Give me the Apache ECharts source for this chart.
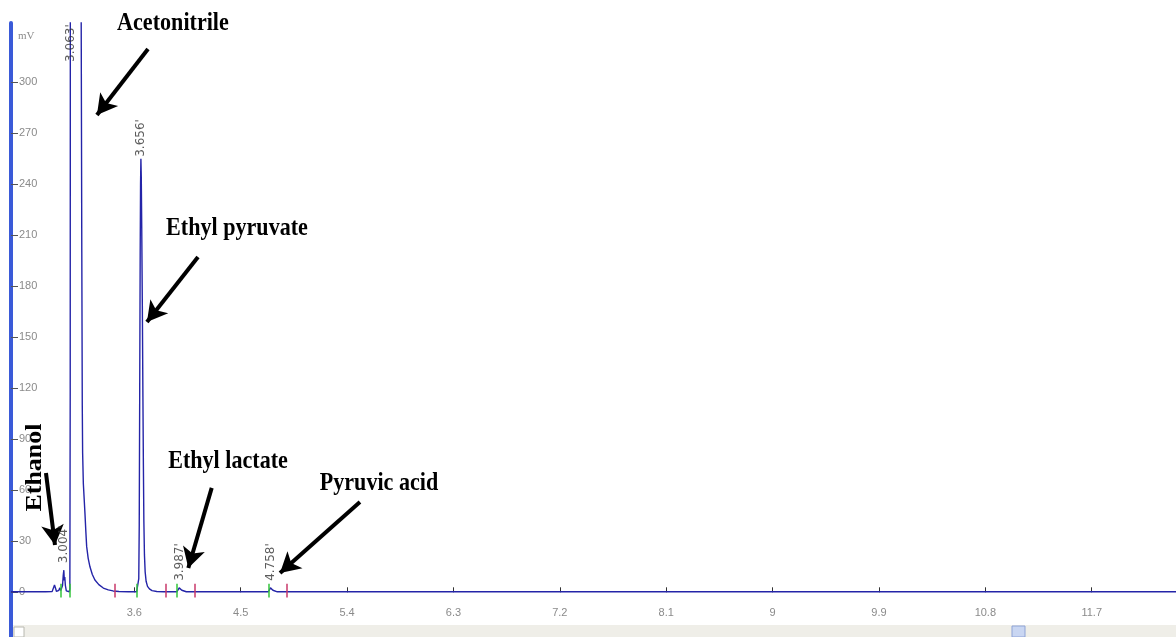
<!DOCTYPE html>
<html><head><meta charset="utf-8">
<script src="https://cdn.jsdelivr.net/npm/echarts@6/dist/echarts.min.js"></script>
<style>html,body{margin:0;padding:0;background:#fff}#c{width:1176px;height:637px}</style>
</head><body><div id="c"></div>
<script>
// ---- data ----
const signalTime = [2.557,2.70,2.85,2.905,2.915,2.925,2.933,2.942,2.952,2.962,2.970,2.978,2.986,2.993,2.999,3.004,3.008,3.012,3.017,3.025,3.035,3.050,
  3.055,3.058,3.061,3.063,3.10,3.14,3.150,3.156,3.160,3.163,3.169,3.176,3.183,3.190,3.197,3.210,3.225,3.245,3.267,3.300,3.338,3.380,3.420,3.470,3.550,
  3.620,3.632,3.638,3.642,3.646,3.650,3.653,3.656,3.659,3.663,3.668,3.673,3.677,3.681,3.686,3.692,3.700,3.712,3.728,3.750,3.790,3.850,
  3.960,3.972,3.980,3.987,3.994,4.002,4.012,4.040,
  4.735,4.745,4.752,4.758,4.765,4.773,4.785,4.810,12.413];
const signalMV = [0.3,0.3,0.3,0.4,1.5,4.3,2.5,0.5,0.3,1.2,2.6,1.0,0.4,4,10,13,7,9,4,0.8,0.3,0.3,
  2,120,800,1400,1000,600,360,200,110,82,64,55,46,36,27,20,15,10.5,7.2,4.5,2.5,1.4,0.8,0.5,0.3,
  0.3,1,8,40,120,200,240,255,245,215,170,115,75,42,22,12,6.5,3.5,2,1,0.5,0.3,
  0.3,1,2.6,3.2,2.6,1.2,0.5,0.3,
  0.3,1.2,2.6,3.2,2.6,1.2,0.5,0.3,0.3];
const peakTimes = [3.004, 3.063, 3.656, 3.987, 4.758];
const peakHeights = [13, 1400, 255, 3.2, 3.2];
const peakStarts = [2.98, 3.056, 3.625, 3.959, 4.74];
const peakEnds = [3.434, 3.868, 4.108, 4.889];
const yTickValues = [0, 30, 60, 90, 120, 150, 180, 210, 240, 270, 300];
const xTickValues = [3.6, 4.5, 5.4, 6.3, 7.2, 8.1, 9, 9.9, 10.8, 11.7];
const xTickLabels = ['3.6', '4.5', '5.4', '6.3', '7.2', '8.1', '9', '9.9', '10.8', '11.7'];
const annotationNames = ['Acetonitrile', 'Ethyl pyruvate', 'Ethyl lactate', 'Pyruvic acid', 'Ethanol'];

// ---- annotation placement (data coordinates) ----
const annotationTextAt = [[3.927, 334.6], [4.469, 214.1], [4.393, 77.0], [5.670, 64.1], [2.766, 73.4]];
const annotationArrowFrom = [[3.716, 319.6], [4.139, 197.2], [4.255, 61.4], [5.509, 53.1], [2.853, 70.2]];
const annotationArrowTo = [[3.284, 280.8], [3.707, 159.0], [4.057, 14.3], [4.833, 11.35], [2.929, 27.8]];
const annotationVertical = [false, false, false, false, true];

const X_MIN = 2.557, X_MAX = 12.413, Y_MIN = -18.65, Y_MAX = 334.9;
const labelDist = [7, 0, 2, 6, 6];
const labelCap = 312;

const chart = echarts.init(document.getElementById('c'), null, {renderer: 'canvas'});
const narrow = "'Liberation Sans Narrow', 'Arial Narrow', 'Liberation Sans', sans-serif";

const markerLines = [];
peakStarts.forEach(t => markerLines.push([{coord: [t, -3], lineStyle: {color: '#33c43a', width: 1.5, type: 'solid'}}, {coord: [t, 5]}]));
peakEnds.forEach(t => markerLines.push([{coord: [t, -3], lineStyle: {color: '#c8386a', width: 1.5, type: 'solid'}}, {coord: [t, 5]}]));

const arrowLines = annotationArrowFrom.map((f, i) => [{coord: f}, {coord: annotationArrowTo[i]}]);

const option = {
  animation: false,
  backgroundColor: '#ffffff',
  grid: {left: 11, right: 0, top: 23, bottom: 13, containLabel: false, outerBoundsMode: 'none'},
  xAxis: {
    type: 'value', min: X_MIN, max: X_MAX,
    axisLine: {show: false},
    splitLine: {show: false},
    axisTick: {show: true, inside: true, length: 5, customValues: xTickValues, lineStyle: {color: '#333'}},
    axisLabel: {show: true, inside: true, margin: 6, customValues: xTickValues, color: '#8a8a8a', fontSize: 11, fontFamily: narrow,
      formatter: v => { const i = xTickValues.findIndex(x => Math.abs(x - v) < 1e-6); return i >= 0 ? xTickLabels[i] : ''; }}
  },
  yAxis: {
    type: 'value', min: Y_MIN, max: Y_MAX,
    name: 'mV', nameLocation: 'end', nameGap: -13,
    nameTextStyle: {color: '#8a8a8a', fontSize: 11, fontFamily: "'Liberation Serif', serif", align: 'left', verticalAlign: 'middle', padding: [0, 0, 0, 7]},
    axisLine: {show: true, lineStyle: {color: '#3a5ad8', width: 4}},
    splitLine: {show: false},
    axisTick: {show: true, inside: true, length: 7, customValues: yTickValues, lineStyle: {color: '#555'}},
    axisLabel: {show: true, inside: true, margin: 8, customValues: yTickValues, color: '#8a8a8a', fontSize: 11, fontFamily: narrow}
  },
  series: [
    {
      name: 'signal', type: 'line', showSymbol: false, symbol: 'none', clip: true, z: 3,
      data: signalTime.map((t, i) => [t, signalMV[i]]),
      lineStyle: {color: '#2424a8', width: 1.4}
    },
    {
      name: 'integration marks', type: 'line', data: [], z: 4,
      markLine: {silent: true, symbol: ['none', 'none'], label: {show: false}, animation: false, data: markerLines}
    },
    {
      name: 'peak labels', type: 'scatter', symbolSize: 0, z: 5, clip: false,
      data: peakTimes.map((t, i) => ({
        value: [t, Math.min(peakHeights[i], labelCap)],
        label: {distance: labelDist[i]}
      })),
      label: {show: true, position: 'top', rotate: 90, align: 'left', verticalAlign: 'middle',
        color: '#333', fontSize: 12, fontFamily: "'DejaVu Sans', sans-serif",
        formatter: p => p.value[0].toFixed(3) + "'"}
    },
    {
      name: 'arrows', type: 'line', data: [], z: 6,
      markLine: {silent: true, symbol: ['none', 'arrow'], symbolSize: [17, 20], label: {show: false}, animation: false,
        lineStyle: {color: '#000', width: 4, type: 'solid'}, data: arrowLines}
    }
  ]
};
chart.setOption(option);

const graphics = [
  {type: 'rect', shape: {x: 13, y: 625, width: 1163, height: 12}, style: {fill: '#efeee8'}, z: 50, silent: true},
  {type: 'rect', shape: {x: 9, y: 623, width: 4, height: 14}, style: {fill: '#3a5ad8'}, z: 51, silent: true},
  {type: 'rect', shape: {x: 14, y: 627, width: 10, height: 10}, style: {fill: '#ffffff', stroke: '#b8b8b0', lineWidth: 1}, z: 51, silent: true},
  {type: 'rect', shape: {x: 1012, y: 626, width: 13, height: 11}, style: {fill: '#c9d6f2', stroke: '#8ea3d6', lineWidth: 1}, z: 51, silent: true}
];
annotationNames.forEach((txt, i) => {
  const p = chart.convertToPixel({gridIndex: 0}, annotationTextAt[i]);
  const vert = annotationVertical[i];
  graphics.push({
    type: 'text', x: p[0], y: p[1], rotation: vert ? Math.PI / 2 : 0,
    scaleX: vert ? 1 : 0.85, scaleY: vert ? 0.85 : 1, z: 100, silent: true,
    style: {text: txt, fill: '#000', fontSize: 26, fontWeight: 'bold', fontFamily: "'Liberation Serif', 'Times New Roman', serif", align: 'center', verticalAlign: 'middle'}
  });
});
chart.setOption({graphic: graphics});
</script>
</body></html>
